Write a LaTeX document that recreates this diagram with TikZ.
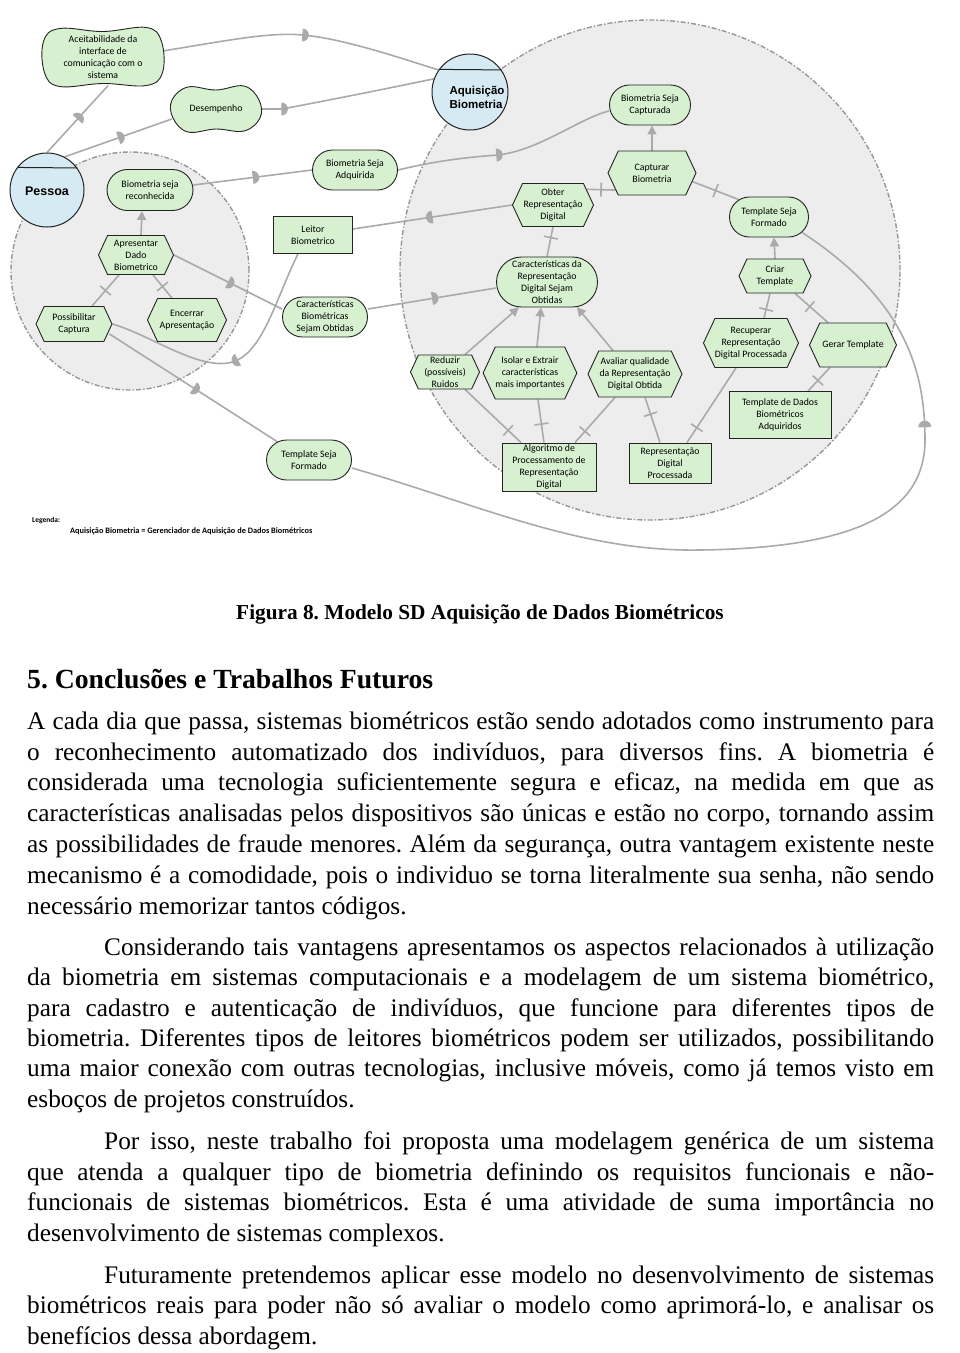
\documentclass[tikz,border=0pt]{standalone}
\usepackage{fontspec}
\setmainfont{Liberation Serif}
\newfontfamily\nodefont{Carlito}
\newfontfamily\arialfont{Liberation Sans}
\usetikzlibrary{shapes.misc,shapes.symbols,arrows.meta,decorations.markings}
\definecolor{nodegreen}{RGB}{214,240,208}
\definecolor{actorblue}{RGB}{214,234,244}
\definecolor{bnd}{RGB}{237,237,237}
\definecolor{bndline}{RGB}{150,150,150}
\definecolor{lnk}{RGB}{170,170,170}
\definecolor{edge}{RGB}{35,35,35}
\pgfdeclarelayer{bg}\pgfdeclarelayer{lk}
\pgfsetlayers{bg,lk,main}
\frenchspacing
\newcommand{\bodyfont}{\fontsize{25.3}{30}\selectfont}
\newcommand{\jline}[4]{\node[anchor=base west,inner sep=0pt,font=\bodyfont] (#1) at (#2,#3) {\hbox to \dimexpr 934pt-#2pt\relax{#4}};}
\newcommand{\lline}[4]{\node[anchor=base west,inner sep=0pt,font=\bodyfont] (#1) at (#2,#3) {#4};}
% wobbly softgoal outline: name, cx, cy, half-width, half-height
\newcommand{\cloudshape}[4]{\draw[edge, fill=nodegreen, line width=0.9pt] plot[smooth cycle, tension=0.65] coordinates {({#1-#3+16},{#2-#4}) ({#1},{#2-#4+3}) ({#1+#3-16},{#2-#4-1}) ({#1+#3-1},{#2-#4+13}) ({#1+#3},{#2+#4-13}) ({#1+#3-16},{#2+#4}) ({#1},{#2+#4-2}) ({#1-#3+16},{#2+#4+1}) ({#1-#3+1},{#2+#4-13}) ({#1-#3},{#2-#4+13})};}
\tikzset{
 box/.style={draw=edge, fill=nodegreen, line width=0.9pt, align=center, inner sep=0pt, font=\nodefont\fontsize{9.8}{12}\selectfont},
 goal/.style={box, rounded rectangle},
 soft/.style={align=center, inner sep=0pt, font=\nodefont\fontsize{9.8}{12}\selectfont},
 task/.style={box, signal, signal to=west and east, signal pointer angle=130},
 res/.style={box, rectangle},
 actor/.style={circle, draw=edge, fill=actorblue, line width=1pt, inner sep=0pt},
 lk/.style={draw=lnk, line width=1.6pt},
 dep/.style={postaction={decorate, decoration={markings, mark=at position #1 with {\fill[lnk] (0pt,6.5pt) arc[start angle=90, end angle=-90, radius=6.5pt] -- cycle;}}}},
 dep/.default=0.5,
 dec/.style={postaction={decorate, decoration={markings, mark=at position #1 with {\draw[lnk, line width=1.6pt] (0pt,-7pt) -- (0pt,7pt);}}}},
 dec/.default=0.5,
 me/.style={lk, -{Triangle[length=9pt,width=9pt]}},
 bndry/.style={fill=bnd, draw=bndline, line width=1.4pt, dash pattern=on 5pt off 2pt on 1.5pt off 2pt},
}
\begin{document}
\begin{tikzpicture}[x=1pt,y=-1pt]
\useasboundingbox (0,0) rectangle (960,1353);
\begin{pgfonlayer}{bg}
\fill[white] (0,0) rectangle (960,1353);
\filldraw[bndry] (130,271) circle[radius=119pt];
\filldraw[bndry] (650,270) circle[radius=250pt];
\end{pgfonlayer}

% actors
\node[actor, minimum size=74pt] (pessoa) at (47,190) {};
\draw[edge, line width=1pt] (pessoa.143.5) -- (pessoa.36.5);
\node[font=\arialfont\bfseries\fontsize{12.5}{14}\selectfont] (pessoaT) at (47,191) {Pessoa};
\node[actor, minimum size=76pt] (aq) at (470,92) {};
\draw[edge, line width=1pt] (aq.144.6) -- (aq.35.4);
\node[font=\arialfont\bfseries\fontsize{11.5}{14}\selectfont, align=left] (aqT) at (477,97) {Aquisição\\Biometria};

% softgoals
\cloudshape{103}{57}{59.5}{28.5}
\node[soft, minimum width=119pt, minimum height=57pt] (acei) at (103,57) {Aceitabilidade da\\interface de\\comunicação com o\\sistema};
\cloudshape{216}{109}{44}{22}
\node[soft, minimum width=88pt, minimum height=44pt] (desemp) at (216,109) {Desempenho};

% Pessoa internals
\node[goal, minimum width=86pt, minimum height=41pt] (reco) at (150,190) {Biometria seja\\reconhecida};
\node[task, minimum width=75pt, minimum height=39pt] (apres) at (136,255) {Apresentar\\Dado\\Biometrico};
\node[task, minimum width=76pt, minimum height=35pt] (possib) at (74,324) {Possibilitar\\Captura};
\node[task, minimum width=79pt, minimum height=43pt] (encerrar) at (187,320) {Encerrar\\Apresentação};

% dependums
\node[goal, minimum width=85pt, minimum height=40pt] (adq) at (355,170) {Biometria Seja\\Adquirida};
\node[res, minimum width=79pt, minimum height=37pt] (leitor) at (313,235) {Leitor\\Biometrico};
\node[goal, minimum width=85pt, minimum height=40pt] (carbio) at (325,317) {Características\\Biométricas\\Sejam Obtidas};
\node[goal, minimum width=85pt, minimum height=40pt] (tsfl) at (309,460) {Template Seja\\Formado};

% Aquisicao internals
\node[goal, minimum width=81pt, minimum height=40pt] (bcap) at (650,105) {Biometria Seja\\Capturada};
\node[task, minimum width=88pt, minimum height=44pt] (capbio) at (652,173) {Capturar\\Biometria};
\node[task, minimum width=81pt, minimum height=43pt] (obter) at (553,205) {Obter\\Representação\\Digital};
\node[goal, minimum width=79pt, minimum height=40pt] (tsfr) at (769,217) {Template Seja\\Formado};
\node[goal, minimum width=101pt, minimum height=50pt] (crd) at (547,282) {Características da\\Representação\\Digital Sejam\\Obtidas};
\node[task, minimum width=72pt, minimum height=34pt] (criar) at (775,276) {Criar\\Template};
\node[task, minimum width=93pt, minimum height=49pt] (recuperar) at (751,343) {Recuperar\\Representação\\Digital Processada};
\node[task, minimum width=87pt, minimum height=44pt] (gerar) at (853,345) {Gerar Template};
\node[task, minimum width=69pt, minimum height=34pt] (reduzir) at (445,372) {Reduzir\\(possíveis)\\Ruidos};
\node[task, minimum width=93pt, minimum height=52pt] (isolar) at (530,373) {Isolar e Extrair\\características\\mais importantes};
\node[task, minimum width=94pt, minimum height=46pt] (avaliar) at (635,374) {Avaliar qualidade\\da Representação\\Digital Obtida};
\node[res, minimum width=102pt, minimum height=47pt] (tdados) at (780,415) {Template de Dados\\Biométricos\\Adquiridos};
\node[res, minimum width=94pt, minimum height=48pt] (algo) at (549,467) {Algoritmo de\\Processamento de\\Representação\\Digital};
\node[res, minimum width=82pt, minimum height=40pt] (repdp) at (670,463) {Representação\\Digital\\Processada};

% links
\begin{pgfonlayer}{lk}
\draw[lk,dep] (pessoa.north) -- ([xshift=5pt]acei.south);
\draw[lk,dep=0.5] ([yshift=6pt]acei.east) .. controls (230,40) and (270,32) .. (303,35) .. controls (345,39) and (400,58) .. (aq.145);
\draw[lk,dep] (pessoa.62) -- ([yshift=-10pt]desemp.west);
\draw[lk,dep=0.12] (desemp.east) -- (282,109) .. controls (330,100) and (390,88) .. (aq.160);
\draw[lk,dep] ([yshift=5pt]reco.east) -- (adq.west);
\draw[lk,dep=0.45] (adq.east) .. controls (440,160) and (470,157) .. (498,155) .. controls (540,150) and (580,118) .. ([yshift=-6pt]bcap.west);
\draw[lk,dep] (obter.west) -- ([yshift=6pt]leitor.east);
\draw[lk,dep=0.48] ([xshift=-15pt]leitor.south) .. controls (275,300) and (262,358) .. (228,363) .. controls (195,368) and (150,335) .. (possib.east);
\draw[lk,dep] (apres.east) -- ([yshift=8pt]carbio.west);
\draw[lk,dep] ([yshift=8pt]carbio.east) -- ([yshift=-6pt]crd.west);
\draw[lk,dep] ([shift={(-3pt,-10pt)}]possib.east) -- (tsfl.150);
\draw[lk,dep=0.73] ([yshift=-8pt]tsfl.east) .. controls (480,505) and (580,552) .. (700,550) .. controls (840,548) and (925,520) .. (925,440) .. controls (925,370) and (905,300) .. (tsfr.-25);

\draw[lk,dec] ([xshift=18pt]possib.north) -- ([xshift=-17pt]apres.south);
\draw[lk,dec] ([xshift=-15pt]encerrar.north) -- ([xshift=17pt]apres.south);
\draw[me] ([xshift=5pt]apres.north) -- ([xshift=-8pt]reco.south);
\draw[me] (capbio.north) -- ([xshift=2pt]bcap.south);
\draw[lk,dec] (obter.25) -- (capbio.205);
\draw[lk,dec] (capbio.-12) -- (tsfr.150);
\draw[lk,dec=0.36] (obter.south) -- (crd.north);
\draw[me] ([xshift=20pt]reduzir.north) -- (crd.222);
\draw[me] ([xshift=7pt]isolar.north) -- ([xshift=-6pt]crd.south);
\draw[me] ([xshift=-22pt]avaliar.north) -- (crd.-40);
\draw[lk,dec=0.23] ([xshift=-28pt]algo.north) -- ([xshift=20pt]reduzir.south);
\draw[lk,dec=0.43] ([xshift=-5pt]algo.north) -- ([xshift=8pt]isolar.south);
\draw[lk,dec=0.25] ([xshift=26pt]algo.north) -- ([xshift=-20pt]avaliar.south);
\draw[lk,dec=0.63] ([xshift=-10pt]repdp.north) -- ([xshift=10pt]avaliar.south);
\draw[lk,dec=0.2] ([xshift=17pt]repdp.north) -- ([xshift=-15pt]recuperar.south);
\draw[lk,dec=0.35] ([xshift=13pt]recuperar.north) -- ([xshift=-5pt]criar.south);
\draw[lk,dec=0.55] ([xshift=-25pt]gerar.north) -- ([xshift=20pt]criar.south);
\draw[lk,dec=0.45] ([xshift=28pt]tdados.north) -- ([xshift=-23pt]gerar.south);
\draw[me] (criar.north) -- ([xshift=5pt]tsfr.south);
\end{pgfonlayer}

% legend
\node[anchor=base west, inner sep=0pt, font=\nodefont\bfseries\fontsize{7.5}{8}\selectfont] (leg1) at (32,522) {Legenda:};
\node[anchor=base west, inner sep=0pt, font=\nodefont\bfseries\fontsize{8.3}{9}\selectfont] (leg2) at (70,533) {Aquisição Biometria = Gerenciador de Aquisição de Dados Biométricos};

% caption and heading
\node[anchor=base, inner sep=0pt, font=\bfseries\fontsize{21.3}{25}\selectfont] (cap) at (480,619) {Figura 8. Modelo SD Aquisição de Dados Biométricos};
\node[anchor=base west, inner sep=0pt, font=\bfseries\fontsize{27.7}{32}\selectfont] (head) at (27,688) {5. Conclusões e Trabalhos Futuros};

% paragraph 1
\jline{p1a}{27}{729}{A cada dia que passa, sistemas biométricos estão sendo adotados como instrumento para}
\jline{p1b}{27}{760}{o reconhecimento automatizado dos indivíduos, para diversos fins. A biometria é}
\jline{p1c}{27}{790}{considerada uma tecnologia suficientemente segura e eficaz, na medida em que as}
\jline{p1d}{27}{821}{características analisadas pelos dispositivos são únicas e estão no corpo, tornando assim}
\jline{p1e}{27}{852}{as possibilidades de fraude menores. Além da segurança, outra vantagem existente neste}
\jline{p1f}{27}{883}{mecanismo é a comodidade, pois o individuo se torna literalmente sua senha, não sendo}
\lline{p1g}{27}{914}{necessário memorizar tantos códigos.}
% paragraph 2
\jline{p2a}{104}{955}{Considerando tais vantagens apresentamos os aspectos relacionados à utilização}
\jline{p2b}{27}{985}{da biometria em sistemas computacionais e a modelagem de um sistema biométrico,}
\jline{p2c}{27}{1016}{para cadastro e autenticação de indivíduos, que funcione para diferentes tipos de}
\jline{p2d}{27}{1046}{biometria. Diferentes tipos de leitores biométricos podem ser utilizados, possibilitando}
\jline{p2e}{27}{1076}{uma maior conexão com outras tecnologias, inclusive móveis, como já temos visto em}
\lline{p2f}{27}{1107}{esboços de projetos construídos.}
% paragraph 3
\jline{p3a}{104}{1149}{Por isso, neste trabalho foi proposta uma modelagem genérica de um sistema}
\jline{p3b}{27}{1180}{que atenda a qualquer tipo de biometria definindo os requisitos funcionais e não-}
\jline{p3c}{27}{1210}{funcionais de sistemas biométricos. Esta é uma atividade de suma importância no}
\lline{p3d}{27}{1241}{desenvolvimento de sistemas complexos.}
% paragraph 4
\jline{p4a}{104}{1283}{Futuramente pretendemos aplicar esse modelo no desenvolvimento de sistemas}
\jline{p4b}{27}{1313}{biométricos reais para poder não só avaliar o modelo como aprimorá-lo, e analisar os}
\lline{p4c}{27}{1344}{benefícios dessa abordagem.}
\end{tikzpicture}
\end{document}
